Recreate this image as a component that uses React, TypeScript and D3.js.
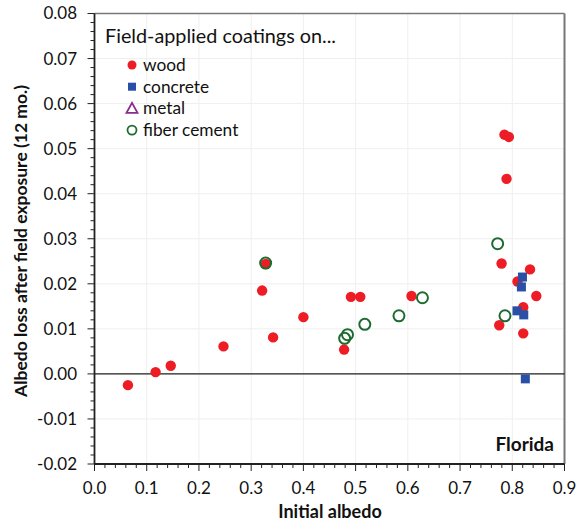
import React from "react";
import * as d3 from "d3";

const woodX = [0.064, 0.117, 0.146, 0.247, 0.321, 0.328, 0.342, 0.400, 0.491, 0.509, 0.478, 0.607, 0.7795, 0.775, 0.810, 0.834, 0.846, 0.821, 0.821, 0.785, 0.7935, 0.789];
const woodY = [-0.0025, 0.0004, 0.0018, 0.0061, 0.0185, 0.0244, 0.0081, 0.0126, 0.0171, 0.0171, 0.0054, 0.0173, 0.0245, 0.0108, 0.0205, 0.0232, 0.0173, 0.0148, 0.0090, 0.0531, 0.0526, 0.0433];

const concreteX = [0.8195, 0.8175, 0.809, 0.822, 0.825];
const concreteY = [0.0215, 0.0193, 0.0140, 0.0131, -0.0011];

const fiberX = [0.3277, 0.772, 0.786, 0.628, 0.583, 0.5176, 0.4845, 0.479];
const fiberY = [0.0246, 0.0289, 0.0129, 0.0169, 0.0129, 0.0110, 0.0087, 0.0079];

const xTicks = [0, 0.1, 0.2, 0.3, 0.4, 0.5, 0.6, 0.7, 0.8, 0.9];
const yTicks = [-0.02, -0.01, 0, 0.01, 0.02, 0.03, 0.04, 0.05, 0.06, 0.07, 0.08];
const legendLabels = ["wood", "concrete", "metal", "fiber cement"];

const W = 576, H = 524;
const L = 94.5, R = 564.5, T = 13.5, B = 464;
const FONT = "Lato, 'Open Sans', sans-serif";

const fmt = (f: string) => (v: number) => d3.format(f)(v).replace("\u2212", "-");

export default function App() {
  const x = d3.scaleLinear().domain([0, 0.9]).range([L, R]);
  const y = d3.scaleLinear().domain([-0.02, 0.08]).range([B, T]);
  const xMinor = d3.range(0, 0.9001, 0.02);
  const yMinor = d3.range(-0.02, 0.0801, 0.002);
  const red = "#ee1c25";
  const blue = "#2a4fa6";
  const green = "#1e6b31";
  const purple = "#8b2a8f";
  const legY = (i: number) => 65 + i * 21.7;
  return (
    <svg width={W} height={H} style={{ position: "absolute", left: 0, top: 0, background: "#fff" }} fontFamily={FONT}>
      <rect x={0} y={0} width={W} height={H} fill="#fff" />
      {xTicks.slice(1, -1).map((t) => (
        <line key={"gx" + t} x1={x(t)} x2={x(t)} y1={T} y2={B} stroke="#efefef" strokeWidth={1} />
      ))}
      {yTicks.slice(1, -1).map((t) => (
        <line key={"gy" + t} x1={L} x2={R} y1={y(t)} y2={y(t)} stroke="#efefef" strokeWidth={1} />
      ))}
      <line x1={L} x2={R} y1={T} y2={T} stroke="#777" strokeWidth={1.5} />
      <line x1={R} x2={R} y1={T} y2={B} stroke="#777" strokeWidth={2} />
      <line x1={L} x2={R} y1={y(0)} y2={y(0)} stroke="#222" strokeWidth={1.3} />
      <line x1={L} x2={L} y1={T} y2={B} stroke="#222" strokeWidth={1.8} />
      <line x1={L} x2={R} y1={B} y2={B} stroke="#222" strokeWidth={1.8} />
      {yMinor.map((t, i) => (
        <line key={"ym" + i} x1={L - (i % 5 === 0 ? 7 : 4)} x2={L} y1={y(t)} y2={y(t)} stroke="#222" strokeWidth={1} />
      ))}
      {xMinor.map((t, i) => (
        <line key={"xm" + i} x1={x(t)} x2={x(t)} y1={B} y2={B + (i % 5 === 0 ? 7 : 4)} stroke="#222" strokeWidth={1} />
      ))}
      {yTicks.map((t) => (
        <text key={"yl" + t} x={77} y={y(t)} dy="0.35em" textAnchor="end" fontSize={17} fill="#111">
          {fmt(".2f")(t)}
        </text>
      ))}
      {xTicks.map((t) => (
        <text key={"xl" + t} x={x(t)} y={494} textAnchor="middle" fontSize={17} fill="#111">
          {fmt(".1f")(t)}
        </text>
      ))}
      <text x={330} y={518} textAnchor="middle" fontSize={18} fontWeight="bold" fill="#111">Initial albedo</text>
      <text transform={`translate(27,241) rotate(-90)`} textAnchor="middle" fontSize={17.5} fontWeight="bold" fill="#111">
        Albedo loss after field exposure (12 mo.)
      </text>
      <text x={554} y={451} textAnchor="end" fontSize={19} fontWeight="bold" fill="#111">Florida</text>
      <text x={105} y={43} fontSize={19.8} fill="#111">Field-applied coatings on...</text>
      {legendLabels.map((lab, i) => (
        <text key={lab} x={143} y={legY(i)} dy="0.35em" fontSize={17.3} fill="#111">{lab}</text>
      ))}
      <circle cx={132} cy={legY(0)} r={4.5} fill={red} />
      <rect x={128} y={legY(1) - 4} width={8} height={8} fill={blue} />
      <path d={`M${132},${legY(2) - 5.5} L${137.5},${legY(2) + 4.5} L${126.5},${legY(2) + 4.5} Z`} fill="none" stroke={purple} strokeWidth={1.8} />
      <circle cx={132} cy={legY(3)} r={4.5} fill="none" stroke={green} strokeWidth={1.8} />
      {woodX.map((v, i) => (
        <circle key={"w" + i} cx={x(v)} cy={y(woodY[i])} r={5.2} fill={red} />
      ))}
      {concreteX.map((v, i) => (
        <rect key={"c" + i} x={x(v) - 4.5} y={y(concreteY[i]) - 4.5} width={9} height={9} fill={blue} />
      ))}
      {fiberX.map((v, i) => (
        <circle key={"f" + i} cx={x(fiberX[i])} cy={y(fiberY[i])} r={5.5} fill="none" stroke={green} strokeWidth={2} />
      ))}
    </svg>
  );
}
